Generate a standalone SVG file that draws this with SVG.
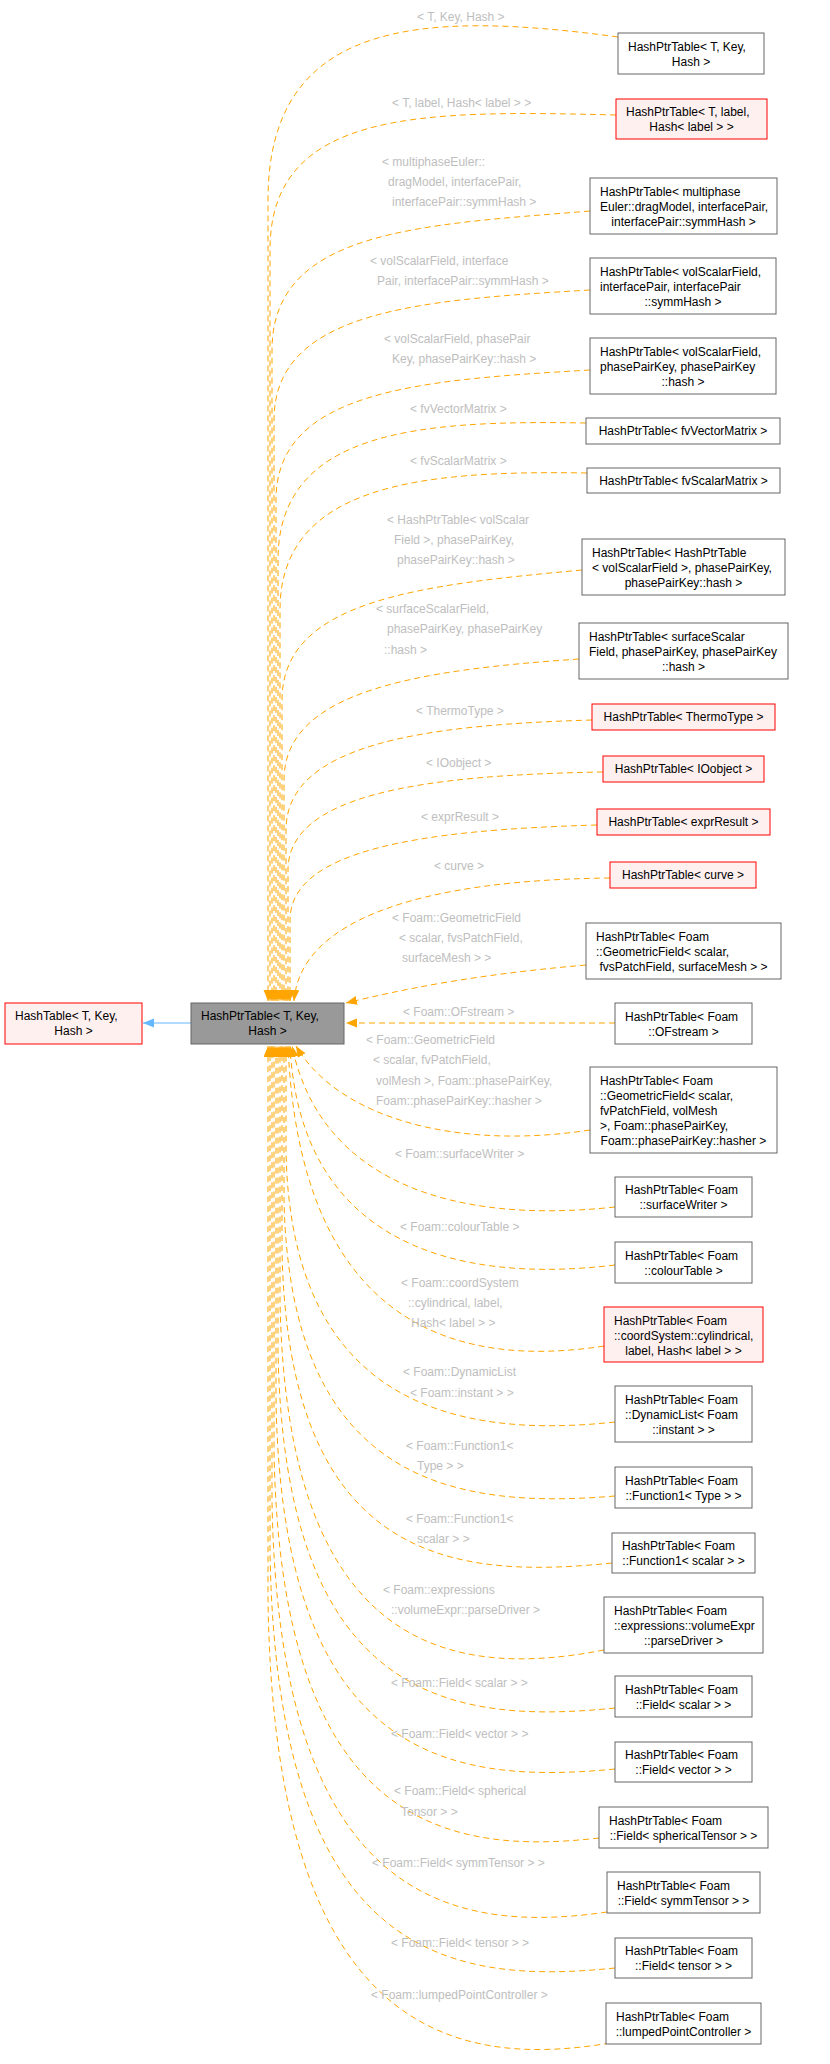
<svg xmlns="http://www.w3.org/2000/svg" width="830" height="2064" viewBox="0 0 830 2064">
<style>
text{font-family:"Liberation Sans",Arial,sans-serif;font-size:12px}
.nt{fill:#000}
.lb{fill:#bebebe}
.c{text-anchor:middle}
.nb{fill:#fff;stroke:#666;stroke-width:1}
.nr{fill:#fff0f0;stroke:#f00;stroke-width:1}
.ng{fill:#999;stroke:#666;stroke-width:1}
.e{fill:none;stroke:#ffa500;stroke-width:1;stroke-dasharray:6,4}
.ei{fill:none;stroke:#63b8ff;stroke-width:1}
</style>
<defs>
<marker id="ao" markerUnits="userSpaceOnUse" markerWidth="12" markerHeight="10" refX="11" refY="4.5" orient="auto"><path d="M0,0 L11,4.5 L0,9 z" fill="#ffa500"/></marker>
<marker id="ab" markerUnits="userSpaceOnUse" markerWidth="12" markerHeight="10" refX="11" refY="4.5" orient="auto"><path d="M0,0 L11,4.5 L0,9 z" fill="#63b8ff"/></marker>
</defs>
<g id="connectors">
<path class="ei" d="M191,1023 L143,1023" marker-end="url(#ab)"/>
<path class="e" d="M618,37 C420,10 268,20 268,200 L268,1001" marker-end="url(#ao)"/>
<path class="e" d="M616,115 C420,110 270,110 270,250 L270,1001" marker-end="url(#ao)"/>
<path class="e" d="M590,211 C420,225 272,230 272,350 L272,1001" marker-end="url(#ao)"/>
<path class="e" d="M590,290 C420,300 274,310 274,420 L274,1001" marker-end="url(#ao)"/>
<path class="e" d="M590,370 C420,380 276,390 276,500 L276,1001" marker-end="url(#ao)"/>
<path class="e" d="M586,423 C420,420 278,430 278,560 L278,1001" marker-end="url(#ao)"/>
<path class="e" d="M587,473 C420,470 280,485 280,610 L280,1001" marker-end="url(#ao)"/>
<path class="e" d="M582,570 C420,585 282,600 282,700 L282,1001" marker-end="url(#ao)"/>
<path class="e" d="M579,659 C420,670 284,690 284,780 L284,1001" marker-end="url(#ao)"/>
<path class="e" d="M592,720 C420,725 286,745 286,830 L286,1001" marker-end="url(#ao)"/>
<path class="e" d="M603,772 C420,775 288,795 288,870 L288,1001" marker-end="url(#ao)"/>
<path class="e" d="M597,825 C420,830 290,850 290,920 L290,1001" marker-end="url(#ao)"/>
<path class="e" d="M610,878 C420,880 300,920 294,1001" marker-end="url(#ao)"/>
<path class="e" d="M586,965 C470,975 400,990 346,1003" marker-end="url(#ao)"/>
<path class="e" d="M615,1023 L346,1023" marker-end="url(#ao)"/>
<path class="e" d="M590,1130 C460,1150 340,1120 296,1046" marker-end="url(#ao)"/>
<path class="e" d="M615,1207 C450,1225 320,1180 292,1046" marker-end="url(#ao)"/>
<path class="e" d="M615,1265 C450,1285 300,1240 290,1046" marker-end="url(#ao)"/>
<path class="e" d="M604,1346 C450,1370 300,1320 288,1046" marker-end="url(#ao)"/>
<path class="e" d="M615,1422 C450,1440 290,1400 286,1150 L286,1046" marker-end="url(#ao)"/>
<path class="e" d="M615,1496 C450,1510 290,1480 284,1200 L284,1046" marker-end="url(#ao)"/>
<path class="e" d="M612,1563 C450,1580 288,1560 282,1250 L282,1046" marker-end="url(#ao)"/>
<path class="e" d="M604,1650 C450,1680 286,1650 280,1300 L280,1046" marker-end="url(#ao)"/>
<path class="e" d="M615,1708 C450,1725 284,1700 278,1350 L278,1046" marker-end="url(#ao)"/>
<path class="e" d="M615,1769 C450,1785 282,1760 276,1400 L276,1046" marker-end="url(#ao)"/>
<path class="e" d="M599,1838 C450,1855 280,1830 274,1450 L274,1046" marker-end="url(#ao)"/>
<path class="e" d="M607,1912 C450,1935 278,1900 272,1500 L272,1046" marker-end="url(#ao)"/>
<path class="e" d="M615,1968 C450,1985 276,1960 270,1550 L270,1046" marker-end="url(#ao)"/>
<path class="e" d="M610,2043 C450,2070 274,2030 268,1600 L268,1046" marker-end="url(#ao)"/>
</g>
<g id="labels">
<text class="lb" x="417" y="21">&lt; T, Key, Hash &gt;</text>
<text class="lb" x="392" y="107">&lt; T, label, Hash&lt; label &gt; &gt;</text>
<text class="lb" x="382" y="166">&lt; multiphaseEuler::</text>
<text class="lb" x="388" y="186">dragModel, interfacePair,</text>
<text class="lb" x="392" y="206">interfacePair::symmHash &gt;</text>
<text class="lb" x="370" y="265">&lt; volScalarField, interface</text>
<text class="lb" x="377" y="285">Pair, interfacePair::symmHash &gt;</text>
<text class="lb" x="384" y="343">&lt; volScalarField, phasePair</text>
<text class="lb" x="392" y="363">Key, phasePairKey::hash &gt;</text>
<text class="lb" x="410" y="413">&lt; fvVectorMatrix &gt;</text>
<text class="lb" x="410" y="465">&lt; fvScalarMatrix &gt;</text>
<text class="lb" x="387" y="524">&lt; HashPtrTable&lt; volScalar</text>
<text class="lb" x="394" y="544">Field &gt;, phasePairKey,</text>
<text class="lb" x="397" y="564">phasePairKey::hash &gt;</text>
<text class="lb" x="376" y="613">&lt; surfaceScalarField,</text>
<text class="lb" x="387" y="633">phasePairKey, phasePairKey</text>
<text class="lb" x="384" y="654">::hash &gt;</text>
<text class="lb" x="416" y="715">&lt; ThermoType &gt;</text>
<text class="lb" x="426" y="767">&lt; IOobject &gt;</text>
<text class="lb" x="421" y="821">&lt; exprResult &gt;</text>
<text class="lb" x="434" y="870">&lt; curve &gt;</text>
<text class="lb" x="392" y="922">&lt; Foam::GeometricField</text>
<text class="lb" x="399" y="942">&lt; scalar, fvsPatchField,</text>
<text class="lb" x="402" y="962">surfaceMesh &gt; &gt;</text>
<text class="lb" x="403" y="1016">&lt; Foam::OFstream &gt;</text>
<text class="lb" x="366" y="1044">&lt; Foam::GeometricField</text>
<text class="lb" x="373" y="1064">&lt; scalar, fvPatchField,</text>
<text class="lb" x="376" y="1085">volMesh &gt;, Foam::phasePairKey,</text>
<text class="lb" x="376" y="1105">Foam::phasePairKey::hasher &gt;</text>
<text class="lb" x="395" y="1158">&lt; Foam::surfaceWriter &gt;</text>
<text class="lb" x="400" y="1231">&lt; Foam::colourTable &gt;</text>
<text class="lb" x="401" y="1287">&lt; Foam::coordSystem</text>
<text class="lb" x="408" y="1307">::cylindrical, label,</text>
<text class="lb" x="411" y="1327">Hash&lt; label &gt; &gt;</text>
<text class="lb" x="403" y="1376">&lt; Foam::DynamicList</text>
<text class="lb" x="410" y="1397">&lt; Foam::instant &gt; &gt;</text>
<text class="lb" x="406" y="1450">&lt; Foam::Function1&lt;</text>
<text class="lb" x="417" y="1470">Type &gt; &gt;</text>
<text class="lb" x="406" y="1523">&lt; Foam::Function1&lt;</text>
<text class="lb" x="417" y="1543">scalar &gt; &gt;</text>
<text class="lb" x="383" y="1594">&lt; Foam::expressions</text>
<text class="lb" x="391" y="1614">::volumeExpr::parseDriver &gt;</text>
<text class="lb" x="391" y="1687">&lt; Foam::Field&lt; scalar &gt; &gt;</text>
<text class="lb" x="391" y="1738">&lt; Foam::Field&lt; vector &gt; &gt;</text>
<text class="lb" x="394" y="1795">&lt; Foam::Field&lt; spherical</text>
<text class="lb" x="401" y="1816">Tensor &gt; &gt;</text>
<text class="lb" x="372" y="1867">&lt; Foam::Field&lt; symmTensor &gt; &gt;</text>
<text class="lb" x="391" y="1947">&lt; Foam::Field&lt; tensor &gt; &gt;</text>
<text class="lb" x="371" y="1999">&lt; Foam::lumpedPointController &gt;</text>
</g>
<g id="HashTable"><rect class="nr" x="5" y="1003" width="137" height="41"/><text class="nt" x="15" y="1020">HashTable&lt; T, Key,</text><text class="nt c" x="73.5" y="1035">Hash &gt;</text></g>
<g id="HashPtrTable"><rect class="ng" x="191" y="1003" width="153" height="41"/><text class="nt" x="201" y="1020">HashPtrTable&lt; T, Key,</text><text class="nt c" x="267.5" y="1035">Hash &gt;</text></g>
<g id="n1"><rect class="nb" x="618" y="33" width="146" height="41"/><text class="nt" x="628" y="51">HashPtrTable&lt; T, Key,</text><text class="nt c" x="691" y="66">Hash &gt;</text></g>
<g id="n2"><rect class="nr" x="616" y="99" width="151" height="40"/><text class="nt" x="626" y="116">HashPtrTable&lt; T, label,</text><text class="nt c" x="691.5" y="131">Hash&lt; label &gt; &gt;</text></g>
<g id="n3"><rect class="nb" x="590" y="178" width="187" height="56"/><text class="nt" x="600" y="196">HashPtrTable&lt; multiphase</text><text class="nt" x="600" y="211">Euler::dragModel, interfacePair,</text><text class="nt c" x="683.5" y="226">interfacePair::symmHash &gt;</text></g>
<g id="n4"><rect class="nb" x="590" y="258" width="186" height="56"/><text class="nt" x="600" y="276">HashPtrTable&lt; volScalarField,</text><text class="nt" x="600" y="291">interfacePair, interfacePair</text><text class="nt c" x="683" y="306">::symmHash &gt;</text></g>
<g id="n5"><rect class="nb" x="590" y="338" width="186" height="56"/><text class="nt" x="600" y="356">HashPtrTable&lt; volScalarField,</text><text class="nt" x="600" y="371">phasePairKey, phasePairKey</text><text class="nt c" x="683" y="386">::hash &gt;</text></g>
<g id="n6"><rect class="nb" x="586" y="418" width="194" height="26"/><text class="nt c" x="683" y="435">HashPtrTable&lt; fvVectorMatrix &gt;</text></g>
<g id="n7"><rect class="nb" x="587" y="468" width="193" height="25"/><text class="nt c" x="683.5" y="485">HashPtrTable&lt; fvScalarMatrix &gt;</text></g>
<g id="n8"><rect class="nb" x="582" y="539" width="203" height="56"/><text class="nt" x="592" y="557">HashPtrTable&lt; HashPtrTable</text><text class="nt" x="592" y="572">&lt; volScalarField &gt;, phasePairKey,</text><text class="nt c" x="683.5" y="587">phasePairKey::hash &gt;</text></g>
<g id="n9"><rect class="nb" x="579" y="623" width="209" height="56"/><text class="nt" x="589" y="641">HashPtrTable&lt; surfaceScalar</text><text class="nt" x="589" y="656">Field, phasePairKey, phasePairKey</text><text class="nt c" x="683.5" y="671">::hash &gt;</text></g>
<g id="n10"><rect class="nr" x="592" y="704" width="183" height="26"/><text class="nt c" x="683.5" y="721">HashPtrTable&lt; ThermoType &gt;</text></g>
<g id="n11"><rect class="nr" x="603" y="756" width="161" height="26"/><text class="nt c" x="683.5" y="773">HashPtrTable&lt; IOobject &gt;</text></g>
<g id="n12"><rect class="nr" x="597" y="809" width="173" height="26"/><text class="nt c" x="683.5" y="826">HashPtrTable&lt; exprResult &gt;</text></g>
<g id="n13"><rect class="nr" x="610" y="862" width="146" height="26"/><text class="nt c" x="683" y="879">HashPtrTable&lt; curve &gt;</text></g>
<g id="n14"><rect class="nb" x="586" y="923" width="195" height="56"/><text class="nt" x="596" y="941">HashPtrTable&lt; Foam</text><text class="nt" x="596" y="956">::GeometricField&lt; scalar,</text><text class="nt c" x="683.5" y="971">fvsPatchField, surfaceMesh &gt; &gt;</text></g>
<g id="n15"><rect class="nb" x="615" y="1003" width="137" height="41"/><text class="nt" x="625" y="1021">HashPtrTable&lt; Foam</text><text class="nt c" x="683.5" y="1036">::OFstream &gt;</text></g>
<g id="n16"><rect class="nb" x="590" y="1067" width="187" height="86"/><text class="nt" x="600" y="1085">HashPtrTable&lt; Foam</text><text class="nt" x="600" y="1100">::GeometricField&lt; scalar,</text><text class="nt" x="600" y="1115">fvPatchField, volMesh</text><text class="nt" x="600" y="1130">&gt;, Foam::phasePairKey,</text><text class="nt c" x="683.5" y="1145">Foam::phasePairKey::hasher &gt;</text></g>
<g id="n17"><rect class="nb" x="615" y="1177" width="137" height="40"/><text class="nt" x="625" y="1194">HashPtrTable&lt; Foam</text><text class="nt c" x="683.5" y="1209">::surfaceWriter &gt;</text></g>
<g id="n18"><rect class="nb" x="615" y="1242" width="137" height="41"/><text class="nt" x="625" y="1260">HashPtrTable&lt; Foam</text><text class="nt c" x="683.5" y="1275">::colourTable &gt;</text></g>
<g id="n19"><rect class="nr" x="604" y="1307" width="159" height="55"/><text class="nt" x="614" y="1325">HashPtrTable&lt; Foam</text><text class="nt" x="614" y="1340">::coordSystem::cylindrical,</text><text class="nt c" x="683.5" y="1355">label, Hash&lt; label &gt; &gt;</text></g>
<g id="n20"><rect class="nb" x="615" y="1386" width="137" height="56"/><text class="nt" x="625" y="1404">HashPtrTable&lt; Foam</text><text class="nt" x="625" y="1419">::DynamicList&lt; Foam</text><text class="nt c" x="683.5" y="1434">::instant &gt; &gt;</text></g>
<g id="n21"><rect class="nb" x="615" y="1467" width="137" height="41"/><text class="nt" x="625" y="1485">HashPtrTable&lt; Foam</text><text class="nt c" x="683.5" y="1500">::Function1&lt; Type &gt; &gt;</text></g>
<g id="n22"><rect class="nb" x="612" y="1533" width="143" height="40"/><text class="nt" x="622" y="1550">HashPtrTable&lt; Foam</text><text class="nt c" x="683.5" y="1565">::Function1&lt; scalar &gt; &gt;</text></g>
<g id="n23"><rect class="nb" x="604" y="1597" width="159" height="56"/><text class="nt" x="614" y="1615">HashPtrTable&lt; Foam</text><text class="nt" x="614" y="1630">::expressions::volumeExpr</text><text class="nt c" x="683.5" y="1645">::parseDriver &gt;</text></g>
<g id="n24"><rect class="nb" x="615" y="1676" width="137" height="41"/><text class="nt" x="625" y="1694">HashPtrTable&lt; Foam</text><text class="nt c" x="683.5" y="1709">::Field&lt; scalar &gt; &gt;</text></g>
<g id="n25"><rect class="nb" x="615" y="1742" width="137" height="40"/><text class="nt" x="625" y="1759">HashPtrTable&lt; Foam</text><text class="nt c" x="683.5" y="1774">::Field&lt; vector &gt; &gt;</text></g>
<g id="n26"><rect class="nb" x="599" y="1807" width="169" height="41"/><text class="nt" x="609" y="1825">HashPtrTable&lt; Foam</text><text class="nt c" x="683.5" y="1840">::Field&lt; sphericalTensor &gt; &gt;</text></g>
<g id="n27"><rect class="nb" x="607" y="1872" width="153" height="41"/><text class="nt" x="617" y="1890">HashPtrTable&lt; Foam</text><text class="nt c" x="683.5" y="1905">::Field&lt; symmTensor &gt; &gt;</text></g>
<g id="n28"><rect class="nb" x="615" y="1938" width="137" height="40"/><text class="nt" x="625" y="1955">HashPtrTable&lt; Foam</text><text class="nt c" x="683.5" y="1970">::Field&lt; tensor &gt; &gt;</text></g>
<g id="n29"><rect class="nb" x="606" y="2003" width="155" height="41"/><text class="nt" x="616" y="2021">HashPtrTable&lt; Foam</text><text class="nt c" x="683.5" y="2036">::lumpedPointController &gt;</text></g>
</svg>
